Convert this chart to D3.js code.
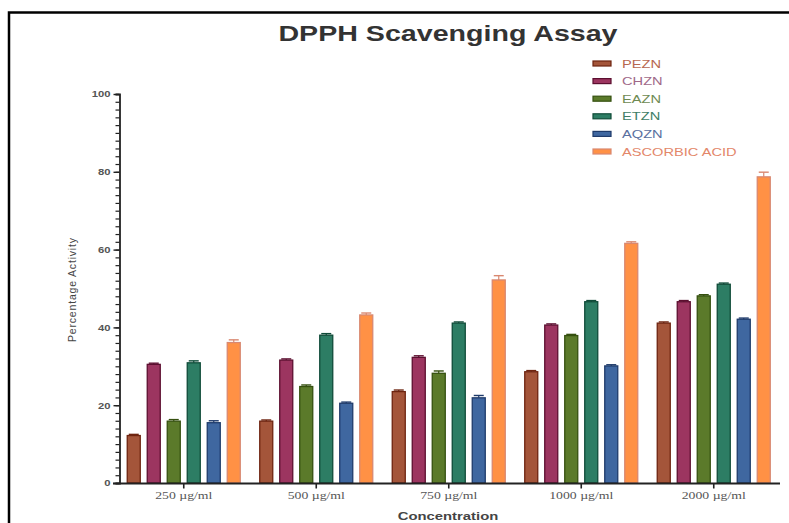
<!DOCTYPE html>
<html lang="en">
<head>
<meta charset="UTF-8">
<script src="https://cdnjs.cloudflare.com/ajax/libs/d3/7.8.5/d3.min.js"></script>
<title>DPPH Scavenging Assay</title>
<style>
    body { margin: 0; background: #fff; }
    svg { display: block; }
</style>
</head>
<body>
<svg id="chart" width="789" height="523"></svg>
<script>
    // data
    var concentrations = ['250 µg/ml', '500 µg/ml', '750 µg/ml', '1000 µg/ml', '2000 µg/ml'];
    var seriesNames = ['PEZN', 'CHZN', 'EAZN', 'ETZN', 'AQZN', 'ASCORBIC ACID'];
    var pezn = [12.2, 15.9, 23.5, 28.6, 41.1];
    var chzn = [30.5, 31.6, 32.3, 40.6, 46.6];
    var eazn = [15.9, 24.8, 28.2, 37.9, 48.1];
    var etzn = [30.9, 38.0, 41.1, 46.6, 51.1];
    var aqzn = [15.5, 20.5, 21.9, 30.1, 42.1];
    var ascorbic = [36.1, 43.2, 52.2, 61.6, 78.7];
    var errPezn = [0.3, 0.3, 0.4, 0.3, 0.3];
    var errChzn = [0.3, 0.3, 0.4, 0.3, 0.3];
    var errEazn = [0.4, 0.4, 0.6, 0.3, 0.3];
    var errEtzn = [0.5, 0.4, 0.3, 0.3, 0.3];
    var errAqzn = [0.5, 0.3, 0.6, 0.3, 0.3];
    var errAscorbic = [0.7, 0.5, 1.1, 0.4, 1.2];
    var yTicks = [0, 20, 40, 60, 80, 100];

    var values = [pezn, chzn, eazn, etzn, aqzn, ascorbic];
    var errors = [errPezn, errChzn, errEazn, errEtzn, errAqzn, errAscorbic];
    var fills = ['#a4553a', '#9c3560', '#5b7a2a', '#2d7d64', '#3f67a0', '#ff9145'];
    var strokes = ['#6e2410', '#5c0f30', '#35500f', '#0f4b38', '#1f3b6b', '#d98870'];
    var textColors = ['#b7674f', '#a06888', '#6e8a52', '#3e7d66', '#5a70a0', '#e3876a'];

    var svg = d3.select('#chart');

    // the source picture is stretched sideways, so widen the text a bit
    function stretch(sel, k) {
        sel.each(function() {
            var w = this.getComputedTextLength();
            d3.select(this).attr('textLength', w * k).attr('lengthAdjust', 'spacingAndGlyphs');
        });
    }

    // frame round the picture
    svg.append('path')
        .attr('d', 'M9,523V12.5H789')
        .attr('fill', 'none')
        .attr('stroke', '#000')
        .attr('stroke-width', 2.5);

    var x = d3.scaleBand().domain(concentrations).range([117.5, 780]);
    var xs = d3.scaleBand().domain(d3.range(seriesNames.length)).range([-56.5, 56.5]).paddingInner(0.35);
    var y = d3.scaleLinear().domain([0, 100]).range([483, 94]);

    // bars
    var rows = [];
    values.forEach(function(vals, s) {
        vals.forEach(function(v, i) {
            rows.push({ s: s, cat: concentrations[i], v: v, e: errors[s][i] });
        });
    });

    var bars = svg.append('g');
    bars.selectAll('rect')
        .data(rows)
        .enter().append('rect')
        .attr('x', function(d) { return x(d.cat) + x.bandwidth() / 2 + xs(d.s); })
        .attr('y', function(d) { return y(d.v); })
        .attr('width', xs.bandwidth())
        .attr('height', function(d) { return y(0) - y(d.v); })
        .attr('fill', function(d) { return fills[d.s]; })
        .attr('stroke', function(d) { return strokes[d.s]; })
        .attr('stroke-width', 1.3);

    // error bars (upper half only)
    var errs = svg.append('g');
    rows.forEach(function(d) {
        var cx = x(d.cat) + x.bandwidth() / 2 + xs(d.s) + xs.bandwidth() / 2;
        errs.append('line')
            .attr('x1', cx).attr('x2', cx)
            .attr('y1', y(d.v)).attr('y2', y(d.v + d.e))
            .attr('stroke', strokes[d.s]).attr('stroke-width', 1.2);
        errs.append('line')
            .attr('x1', cx - 5).attr('x2', cx + 5)
            .attr('y1', y(d.v + d.e)).attr('y2', y(d.v + d.e))
            .attr('stroke', strokes[d.s]).attr('stroke-width', 1.4);
    });

    // y axis with minor ticks
    var yAxis = svg.append('g').attr('transform', 'translate(119.5,0)');
    yAxis.call(d3.axisLeft(y).tickValues(d3.range(0, 101, 2)).tickSize(4).tickFormat(''));
    yAxis.call(function(g) {
        g.selectAll('.tick line').attr('stroke', '#222').attr('stroke-width', 1.2);
        g.select('.domain').attr('stroke', '#222').attr('stroke-width', 1.8);
    });
    var yMajor = svg.append('g').attr('transform', 'translate(119.5,0)');
    yMajor.call(d3.axisLeft(y).tickValues(yTicks).tickSize(6).tickPadding(3));
    yMajor.select('.domain').remove();
    yMajor.selectAll('.tick line').attr('stroke', '#222').attr('stroke-width', 1.4);
    yMajor.selectAll('.tick text')
        .attr('font-family', 'Liberation Sans, Arial, sans-serif')
        .attr('font-size', 9)
        .attr('font-weight', 'bold')
        .attr('fill', '#555')
        .call(stretch, 1.25);

    // x axis
    var xAxis = svg.append('g').attr('transform', 'translate(0,483.5)');
    xAxis.call(d3.axisBottom(x).tickSize(5).tickPadding(3));
    xAxis.select('.domain').attr('d', 'M113,0H780').attr('stroke', '#222').attr('stroke-width', 1.8);
    xAxis.selectAll('.tick line').attr('stroke', '#222').attr('stroke-width', 1.6);
    xAxis.selectAll('.tick text')
        .attr('font-family', 'Liberation Serif, Times New Roman, serif')
        .attr('font-size', 11)
        .attr('fill', '#555')
        .call(stretch, 1.25);

    // titles
    svg.append('text')
        .attr('x', 448).attr('y', 41)
        .attr('text-anchor', 'middle')
        .attr('font-family', 'Liberation Sans, Arial, sans-serif')
        .attr('font-size', 21.5)
        .attr('font-weight', 'bold')
        .attr('fill', '#333')
        .text('DPPH Scavenging Assay')
        .call(stretch, 1.33);

    svg.append('text')
        .attr('x', 448).attr('y', 520)
        .attr('text-anchor', 'middle')
        .attr('font-family', 'Liberation Sans, Arial, sans-serif')
        .attr('font-size', 11)
        .attr('font-weight', 'bold')
        .attr('fill', '#444')
        .text('Concentration')
        .call(stretch, 1.35);

    svg.append('text')
        .attr('transform', 'translate(76,290) rotate(-90)')
        .attr('text-anchor', 'middle')
        .attr('font-family', 'Liberation Sans, Arial, sans-serif')
        .attr('font-size', 10.5)
        .attr('fill', '#444')
        .attr('textLength', 104)
        .text('Percentage Activity');

    // legend
    var legend = svg.append('g').attr('transform', 'translate(593,64)');
    var item = legend.selectAll('g')
        .data(seriesNames)
        .enter().append('g')
        .attr('transform', function(d, i) { return 'translate(0,' + (i * 17.6) + ')'; });
    item.append('rect')
        .attr('x', 0).attr('y', -3)
        .attr('width', 18).attr('height', 5)
        .attr('fill', function(d, i) { return fills[i]; })
        .attr('stroke', function(d, i) { return strokes[i]; })
        .attr('stroke-width', 1.2);
    item.append('text')
        .attr('x', 29).attr('y', 3.5)
        .attr('font-family', 'Liberation Sans, Arial, sans-serif')
        .attr('font-size', 11)
        .attr('fill', function(d, i) { return textColors[i]; })
        .text(function(d) { return d; })
        .call(stretch, 1.33);
</script>
</body>
</html>
